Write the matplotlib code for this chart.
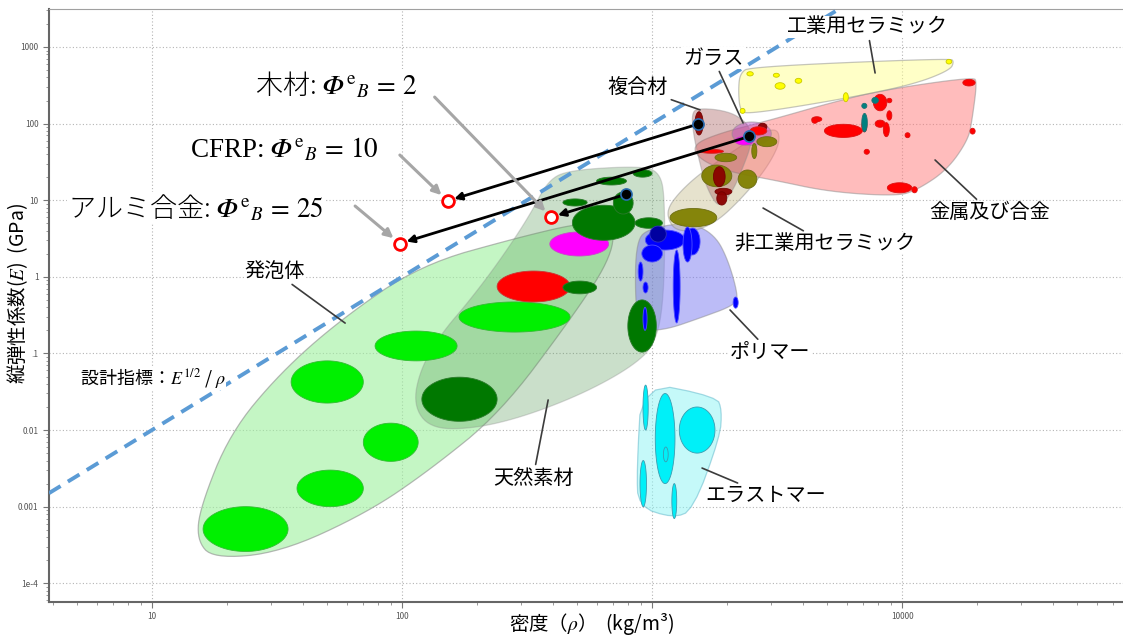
import numpy as np
import matplotlib

matplotlib.use("Agg")
import matplotlib.pyplot as plt
from matplotlib.patches import Polygon

plt.rcParams["font.family"] = ["Noto Sans CJK JP", "DejaVu Sans"]
plt.rcParams["mathtext.fontset"] = "stix"
plt.rcParams["axes.unicode_minus"] = False

# --- family envelopes: density (kg/m3), Young's modulus (GPa) -------------
FOAM_ENV_RHO = [17.5, 15.1, 15.6, 20.5, 32.5, 56.5, 118, 296, 540, 711, 679, 470, 247, 129, 72.4, 32.5]
FOAM_ENV_E = [2.1e-4, 3.7e-4, 9.9e-4, 9.1e-3, 0.0555, 0.273, 1.43, 3.31, 5.2, 4.75, 1.66, 0.273, 0.0167, 3.0e-3, 8.3e-4, 2.5e-4]

NATURAL_ENV_RHO = [129, 111, 118, 142, 187, 247, 325, 384, 470, 895, 1076, 1127, 1117, 1028, 817, 515, 296, 187]
NATURAL_ENV_E = [0.0106, 0.0212, 0.0607, 0.174, 0.498, 1.66, 6.41, 18.4, 24.8, 28, 23.3, 10.1, 0.498, 0.129, 0.0645, 0.0286, 0.0144, 0.0103]

POLYMER_ENV_RHO = [863, 982, 1419, 1786, 2014, 2208, 2148, 1556, 1127, 895, 855]
POLYMER_ENV_E = [3.02, 4.33, 5.19, 3.51, 1.66, 0.578, 0.428, 0.29, 0.202, 0.202, 0.497]

ELASTOMER_ENV_RHO = [909, 1815, 1901, 1871, 1459, 1213, 880, 869]
ELASTOMER_ENV_E = [0.0428, 0.0272, 0.0182, 0.0082, 9.0e-4, 7.1e-4, 1.0e-3, 3.0e-3]

CERAMIC_NT_ENV_RHO = [1180, 1145, 1274, 1556, 2051, 2704, 3155, 3251, 3055, 2704, 2249, 1815, 1462, 1256]
CERAMIC_NT_ENV_E = [4.99, 7.44, 12.3, 22.4, 40.9, 74.7, 86.8, 61.1, 37, 20.3, 10.1, 5.24, 3.88, 4.08]

COMPOSITE_ENV_RHO = [1442, 1556, 1871, 2183, 2466, 2506, 2317, 2113, 1901, 1786, 1629, 1531, 1462]
COMPOSITE_ENV_E = [143, 158, 151, 129, 91, 55.3, 27.4, 13.6, 8.65, 9.1, 16.6, 37, 74.7]

METAL_ENV_RHO = [1445, 1871, 2965, 5152, 8395, 19230, 19950, 19050, 18370, 15140, 11480, 9550, 5152, 3048, 2051, 1556]
METAL_ENV_E = [52.6, 75.4, 111, 186, 275, 406, 349, 111, 61.1, 24.8, 13.6, 11.3, 12.8, 18.4, 23.3, 33.5]

CERAMIC_T_ENV_RHO = [2249, 2466, 15560, 16140, 15560, 11450, 7000, 3793, 2466, 2249, 2213]
CERAMIC_T_ENV_E = [454, 553, 713, 643, 501, 336, 236, 166, 136, 143, 275]

GLASS_ENV = (2090, 3000, 52, 105)

# --- material bubbles: (rho_lo, rho_hi, E_lo, E_hi) ------------------------
FOAM_BUBBLES = [
    (16, 35, 2.6e-4, 1.0e-3),
    (38, 70, 1.0e-3, 3.0e-3),
    (70, 116, 0.0039, 0.0123),
    (36, 70, 0.0225, 0.08),
    (78, 166, 0.08, 0.196),
    (169, 470, 0.19, 0.47),
]
NATURAL_BUBBLES = [
    (120, 240, 0.013, 0.049),
    (440, 600, 0.6, 0.88),
    (480, 855, 3.0, 8.6),
    (440, 550, 8.4, 10.4),
    (700, 840, 6.6, 12.8),
    (600, 790, 15.8, 20),
    (840, 1000, 20, 25),
    (855, 1100, 4.3, 5.9),
    (800, 1040, 0.104, 0.5),
]
NATURAL_RED = [(240, 470, 0.47, 1.19)]
NATURAL_PINK = [(390, 670, 1.87, 3.85)]

POLYMER_BUBBLES = [
    (940, 1355, 2.24, 4.08),
    (1355, 1556, 1.93, 4.33),
    (910, 1100, 1.56, 2.6),
    (1215, 1295, 0.25, 2.24),
    (1330, 1445, 1.56, 4.47),
    (880, 920, 0.88, 1.56),
    (920, 964, 0.615, 0.855),
    (920, 955, 0.2, 0.4),
    (2110, 2210, 0.39, 0.545),
]
POLYMER_DARK = [(980, 1140, 2.84, 4.6)]

ELASTOMER_BUBBLES = [
    (920, 965, 0.01, 0.0386),
    (1030, 1235, 0.002, 0.030),
    (1285, 1785, 0.005, 0.020),
    (1110, 1160, 0.00385, 0.006),
    (895, 950, 0.001, 0.004),
    (1200, 1255, 7.0e-4, 0.002),
]

CERAMIC_NT_BUBBLES = [
    (1180, 1815, 4.5, 7.8),
    (1580, 2085, 15, 28.8),
    (1785, 2180, 31.8, 41),
    (2210, 2625, 14.3, 24.8),
    (2625, 3155, 50, 67.5),
    (2505, 2625, 35, 55),
]

COMPOSITE_BUBBLES = [
    (1485, 1600, 71, 143),
    (1760, 1960, 15, 27.4),
    (1785, 2085, 11.7, 14.3),
    (1815, 1990, 8.65, 12.9),
    (2660, 2880, 82, 101),
]
COMPOSITE_RED = [(1555, 1930, 41, 46)]

GLASS_BUBBLES = [(2148, 2541, 52.6, 67.6)]
GLASS_RED = [(2466, 2877, 71, 91)]

METAL_BUBBLES = [
    (4890, 6935, 66, 98),
    (7680, 8690, 147, 241),
    (8690, 9100, 187, 214),
    (8690, 9100, 111, 147),
    (7800, 8550, 89.5, 111),
    (8415, 8890, 67.5, 103),
    (4355, 4775, 106, 123),
    (4355, 4600, 101, 119),
    (17500, 19600, 310, 378),
    (18700, 19600, 73, 87),
    (10280, 10760, 65.5, 76),
    (7050, 7400, 39.8, 46.2),
    (8730, 10940, 12.5, 16.9),
    (10940, 11500, 12.5, 15),
    (6900, 7230, 78, 111),
]
METAL_TEAL = [
    (6900, 7260, 78, 136),
    (6900, 7230, 158, 184),
    (7570, 8040, 184, 220),
]

CERAMIC_T_BUBBLES = [
    (3055, 3230, 403, 454),
    (3105, 3405, 281, 342),
    (3735, 3970, 336, 390),
    (5820, 6095, 193, 253),
    (15000, 15800, 600, 690),
    (2395, 2540, 419, 476),
    (2250, 2355, 136, 158),
]

# --- shape-factor example: solid material and its equivalent section -------
MATERIALS = ["木材", "CFRP", "アルミ合金"]
MAT_RHO = [790, 1520, 2450]
MAT_E = [12, 98, 68]
MAT_PHI = [2, 10, 25]

# design index line E^(1/2)/rho = const
GUIDE_RHO = [3.87, 5600]
GUIDE_E = [1.5e-3, 3136]

X_TICKS = [10, 100, 1000, 10000]
X_TICK_LABELS = ["10", "100", "", "10000"]
Y_TICKS = [1e-4, 1e-3, 1e-2, 1e-1, 1, 10, 100, 1000]
Y_TICK_LABELS = ["1e-4", "0.001", "0.01", ".1", "1", "10", "100", "1000"]


def chaikin(rho, e, n=3):
    pts = np.column_stack([np.log10(rho), np.log10(e)])
    for _ in range(n):
        nxt = np.roll(pts, -1, axis=0)
        q = 0.75 * pts + 0.25 * nxt
        r = 0.25 * pts + 0.75 * nxt
        pts = np.empty((2 * len(q), 2))
        pts[0::2] = q
        pts[1::2] = r
    return 10 ** pts


def log_ellipse(rho_lo, rho_hi, e_lo, e_hi, n=90):
    t = np.linspace(0, 2 * np.pi, n)
    lx0, lx1 = np.log10(rho_lo), np.log10(rho_hi)
    ly0, ly1 = np.log10(e_lo), np.log10(e_hi)
    cx, rx = (lx0 + lx1) / 2, (lx1 - lx0) / 2
    cy, ry = (ly0 + ly1) / 2, (ly1 - ly0) / 2
    return 10 ** np.column_stack([cx + rx * np.cos(t), cy + ry * np.sin(t)])


def envelope(ax, rho, e, face, alpha, edge="#8c8c8c", n=3):
    ax.add_patch(Polygon(chaikin(rho, e, n), closed=True, fc=face, alpha=alpha,
                         ec=edge, lw=0.9, zorder=1))


def bubbles(ax, ranges, face, edge, alpha=1.0, z=2):
    for r in ranges:
        ax.add_patch(Polygon(log_ellipse(*r), closed=True, fc=face, ec=edge,
                             lw=0.6, alpha=alpha, zorder=z))


fig = plt.figure(figsize=(11.23, 6.36), dpi=100)
ax = fig.add_axes([0.0436, 0.0535, 0.9564, 0.9323])
ax.set_xscale("log")
ax.set_yscale("log")
ax.set_xlim(3.87, 76500)
ax.set_ylim(5.7e-5, 3130)

ax.set_axisbelow(True)
ax.grid(True, which="major", ls=(0, (1, 2)), color="#b4b4b4", lw=0.8)

# envelopes
envelope(ax, FOAM_ENV_RHO, FOAM_ENV_E, "#9ef09e", 0.6)
envelope(ax, NATURAL_ENV_RHO, NATURAL_ENV_E, "#5e9e5e", 0.33)
envelope(ax, POLYMER_ENV_RHO, POLYMER_ENV_E, "#7a7af0", 0.5)
envelope(ax, ELASTOMER_ENV_RHO, ELASTOMER_ENV_E, "#8cf5f5", 0.5, edge="#5ab4c8", n=2)
envelope(ax, CERAMIC_NT_ENV_RHO, CERAMIC_NT_ENV_E, "#c8c090", 0.45)
envelope(ax, METAL_ENV_RHO, METAL_ENV_E, "#ff7a7a", 0.5)
envelope(ax, COMPOSITE_ENV_RHO, COMPOSITE_ENV_E, "#a86060", 0.4)
envelope(ax, CERAMIC_T_ENV_RHO, CERAMIC_T_ENV_E, "#ffff90", 0.5)
ax.add_patch(Polygon(log_ellipse(*GLASS_ENV), closed=True, fc="#b848c8", alpha=0.45,
                     ec="#8c8c8c", lw=0.9, zorder=1))

# material bubbles
bubbles(ax, FOAM_BUBBLES, "#00f000", "#33bb33")
bubbles(ax, NATURAL_RED, "#ff0000", "#cc3333")
bubbles(ax, NATURAL_PINK, "#ff00ff", "#cc44cc")
bubbles(ax, NATURAL_BUBBLES, "#007800", "#2a7a2a")
bubbles(ax, CERAMIC_NT_BUBBLES, "#808000", "#6a6a10", alpha=0.95)
bubbles(ax, COMPOSITE_BUBBLES, "#8b0000", "#700000", alpha=0.95)
bubbles(ax, COMPOSITE_RED, "#ff0000", "#cc2222")
bubbles(ax, POLYMER_BUBBLES, "#0000ff", "#5050ff")
bubbles(ax, POLYMER_DARK, "#0000a0", "#3030c0")
bubbles(ax, ELASTOMER_BUBBLES, "#00f0f8", "#3a9cb0")
bubbles(ax, METAL_BUBBLES, "#ff0000", "#dd1111")
bubbles(ax, METAL_TEAL, "#008080", "#207070")
bubbles(ax, CERAMIC_T_BUBBLES, "#ffff00", "#c8c800")
bubbles(ax, GLASS_BUBBLES, "#ff00ff", "#cc33cc")
bubbles(ax, GLASS_RED, "#ff0000", "#cc2222")

# design index guide line
ax.plot(GUIDE_RHO, GUIDE_E, color="#5b9bd5", lw=2.8, ls=(0, (3.5, 2.2)), zorder=3)

# solid materials and their shaped equivalents (rho/phi, E/phi)
for rho, e, phi in zip(MAT_RHO, MAT_E, MAT_PHI):
    ax.annotate("", xy=(rho / phi, e / phi), xytext=(rho, e),
                arrowprops=dict(arrowstyle="-|>", color="black", lw=2,
                                mutation_scale=11, shrinkA=3, shrinkB=5), zorder=4)
ax.plot(MAT_RHO, MAT_E, "o", ms=8, mfc="black", mec="#2a6cb0", mew=1.2, zorder=5)
ax.plot(np.array(MAT_RHO) / np.array(MAT_PHI), np.array(MAT_E) / np.array(MAT_PHI), "o",
        ms=8.5, mfc="white", mec="#ff0000", mew=2, zorder=5)

# shape-factor labels with grey pointers
label_pos = [(25.8, 319), (14.2, 45.2), (4.61, 7.91)]
pointer_from = [(135, 222), (98, 38.9), (64.9, 8.4)]
for name, rho, e, phi, pos, src in zip(MATERIALS, MAT_RHO, MAT_E, MAT_PHI, label_pos, pointer_from):
    fam = "Liberation Serif" if name.isascii() else "Noto Sans CJK JP"
    weight = "normal" if name.isascii() else "light"
    ax.text(pos[0], pos[1], f"{name}:$\\ 𝛷^{{\\mathrm{{e}}}}{{}}_{{B}}\\,=\\,{phi}$",
            family=fam, weight=weight, fontsize=19.5, ha="left", va="center", zorder=6,
            bbox=dict(fc="white", ec="none", pad=0.5))
    ax.annotate("", xy=(rho / phi, e / phi), xytext=src,
                arrowprops=dict(arrowstyle="-|>", color="#a6a6a6", lw=2.2,
                                mutation_scale=13, shrinkA=0, shrinkB=6), zorder=4)

# family labels with leader lines
FAMILY_LABELS = [
    ("発泡体", (31, 1.16), (59.2, 0.249)),
    ("ガラス", (1754, 718), (2312, 102)),
    ("複合材", (879, 292), (1556, 151)),
    ("工業用セラミック", (7244, 1825), (7800, 458)),
    ("金属及び合金", (22490, 7.01), (13550, 33.5)),
    ("非工業用セラミック", (4920, 2.76), (2780, 7.9)),
    ("ポリマー", (2965, 0.104), (2051, 0.369)),
    ("エラストマー", (2858, 1.42e-3), (1585, 3.19e-3)),
    ("天然素材", (334, 2.36e-3), (384, 0.0247)),
]
for text, pos, tip in FAMILY_LABELS:
    ax.annotate(text, xy=tip, xytext=pos, ha="center", va="center", fontsize=14.5,
                zorder=6, bbox=dict(fc="white", ec="none", pad=0.25),
                arrowprops=dict(arrowstyle="-", color="#3c3c3c", lw=1.2,
                                shrinkA=2, shrinkB=0))

ax.text(5.15, 0.0477, "設計指標：$E^{1/2}$ / $\\rho$", fontsize=13, ha="left",
        va="center", zorder=6, bbox=dict(fc="white", ec="none", pad=0.1))

ax.set_xticks(X_TICKS, X_TICK_LABELS)
ax.set_yticks(Y_TICKS, Y_TICK_LABELS)
ax.xaxis.set_minor_formatter(matplotlib.ticker.NullFormatter())
ax.yaxis.set_minor_formatter(matplotlib.ticker.NullFormatter())
ax.tick_params(which="major", labelsize=6, labelcolor="#555555", color="#777777", length=4)
ax.tick_params(which="minor", color="#888888", length=2.5)
for side in ("left", "bottom"):
    ax.spines[side].set_color("#666666")
    ax.spines[side].set_linewidth(1.5)
ax.spines["top"].set_color("#a0a0a0")
ax.spines["right"].set_visible(False)

fig.text(0.527, 0.019, "密度（$\\rho$）  (kg/m³)", fontsize=14, ha="center", va="center",
         bbox=dict(fc="white", ec="none", pad=0.3))
fig.text(0.0155, 0.539, "縦弾性係数($\\mathit{E}$)  (GPa)", fontsize=14, rotation=90,
         ha="center", va="center")

fig.savefig("out.png", dpi=100)
